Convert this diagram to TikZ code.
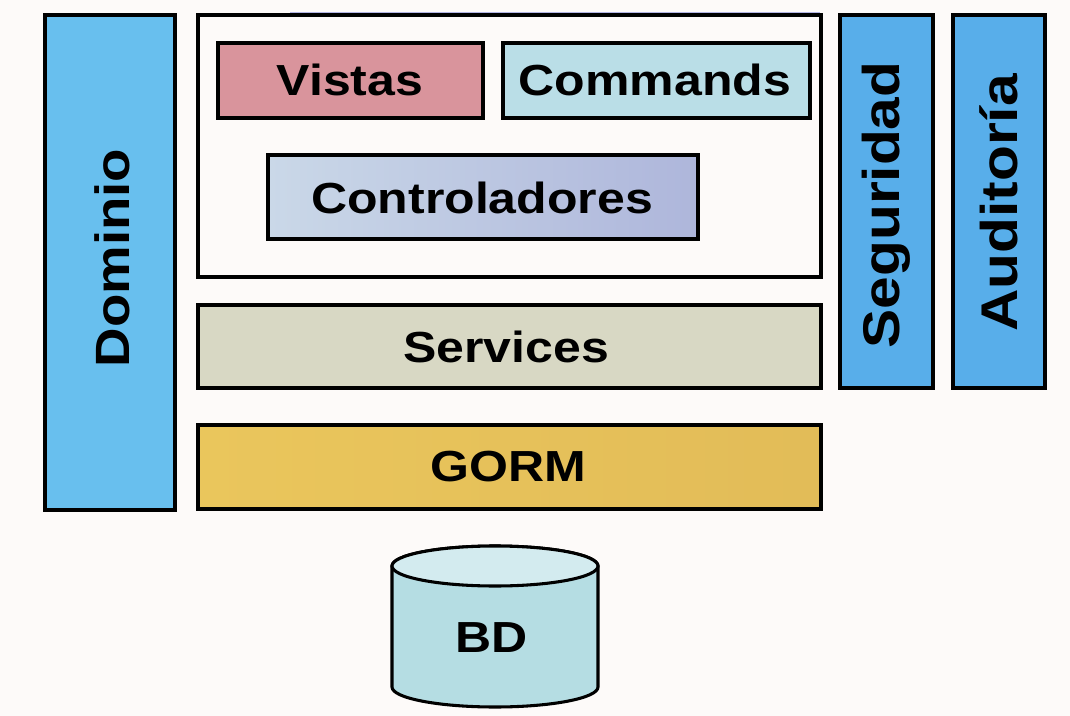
\documentclass[tikz,border=0pt]{standalone}
\usepackage{fontspec}
\setmainfont{Liberation Sans}
\usepackage{graphicx}
\usetikzlibrary{fit}
\definecolor{bgc}{RGB}{253,250,249}
\definecolor{domc}{RGB}{104,191,238}
\definecolor{segc}{RGB}{88,174,234}
\definecolor{vistc}{RGB}{217,148,156}
\definecolor{cmdc}{RGB}{186,222,231}
\definecolor{ctlL}{RGB}{202,216,232}
\definecolor{ctlR}{RGB}{174,182,219}
\definecolor{srvc}{RGB}{216,216,196}
\definecolor{gormL}{RGB}{234,198,92}
\definecolor{gormR}{RGB}{226,188,88}
\definecolor{bdbody}{RGB}{181,221,227}
\definecolor{bdtop}{RGB}{211,235,239}
\definecolor{lav}{RGB}{178,180,228}
\newcommand{\htxt}[1]{\scalebox{1}[0.87]{#1}}
\newcommand{\vtxt}[2]{\rotatebox{90}{\fontsize{#1}{48}\selectfont\scalebox{1}[0.88]{#2}}}
\begin{document}
\begin{tikzpicture}[x=0.75pt,y=-0.75pt,
  box/.style={draw=black, line width=2.3pt, inner sep=0pt},
  lbl/.style={inner sep=0pt, font=\fontsize{37.5}{40}\selectfont\bfseries},
]
\useasboundingbox[fill=bgc] (0,0) rectangle (1070,716);
% faint line at top
\draw[lav, line width=2pt] (290,13) -- (820,13);
% side columns
\node[box, fill=domc, fit={(45,15) (175,510)}] (dom) {};
\node[box, fill=segc, fit={(840,15) (933,388)}] (seg) {};
\node[box, fill=segc, fit={(953,15) (1045,388)}] (aud) {};
\node[lbl] (domt) at (112,258) {\vtxt{41}{Dominio}};
\node[lbl] (segt) at (886,205) {\vtxt{44}{Seguridad}};
\node[lbl] (audt) at (999,203) {\vtxt{44}{Auditoría}};
% web layer container
\node[box, fill=bgc, fit={(198,15) (821,277)}] (web) {};
\node[box, fill=vistc, fit={(218,43) (483,118)}] (vis) {};
\node[box, fill=cmdc, fit={(503,43) (810,118)}] (cmd) {};
\node[box, left color=ctlL, right color=ctlR, fit={(268,155) (698,239)}] (ctl) {};
\node[lbl] (vist) at (350,80) {\htxt{Vistas}};
\node[lbl] (cmdt) at (655,80) {\htxt{Commands}};
\node[lbl] (ctlt) at (482,198) {\htxt{Controladores}};
% services and GORM
\node[box, fill=srvc, fit={(198,305) (821,388)}] (srv) {};
\node[box, left color=gormL, right color=gormR, fit={(198,425) (821,509)}] (gorm) {};
\node[lbl] (srvt) at (506,347) {\htxt{Services}};
\node[lbl] (gormt) at (508,467) {\htxt{GORM}};
% database cylinder
\coordinate (bdtl) at (392,566);
\coordinate (bdbl) at (392,687);
\draw[line width=2.3pt, fill=bdbody] (bdtl) -- (bdbl) arc[start angle=180, end angle=0, x radius=103, y radius=20] -- (598,566) arc[start angle=0, end angle=-180, x radius=103, y radius=20] -- cycle;
\draw[line width=2.3pt, fill=bdtop] (495,566) ellipse[x radius=103, y radius=20];
\node[lbl] (bd) at (492,638) {\htxt{BD}};
\end{tikzpicture}
\end{document}
